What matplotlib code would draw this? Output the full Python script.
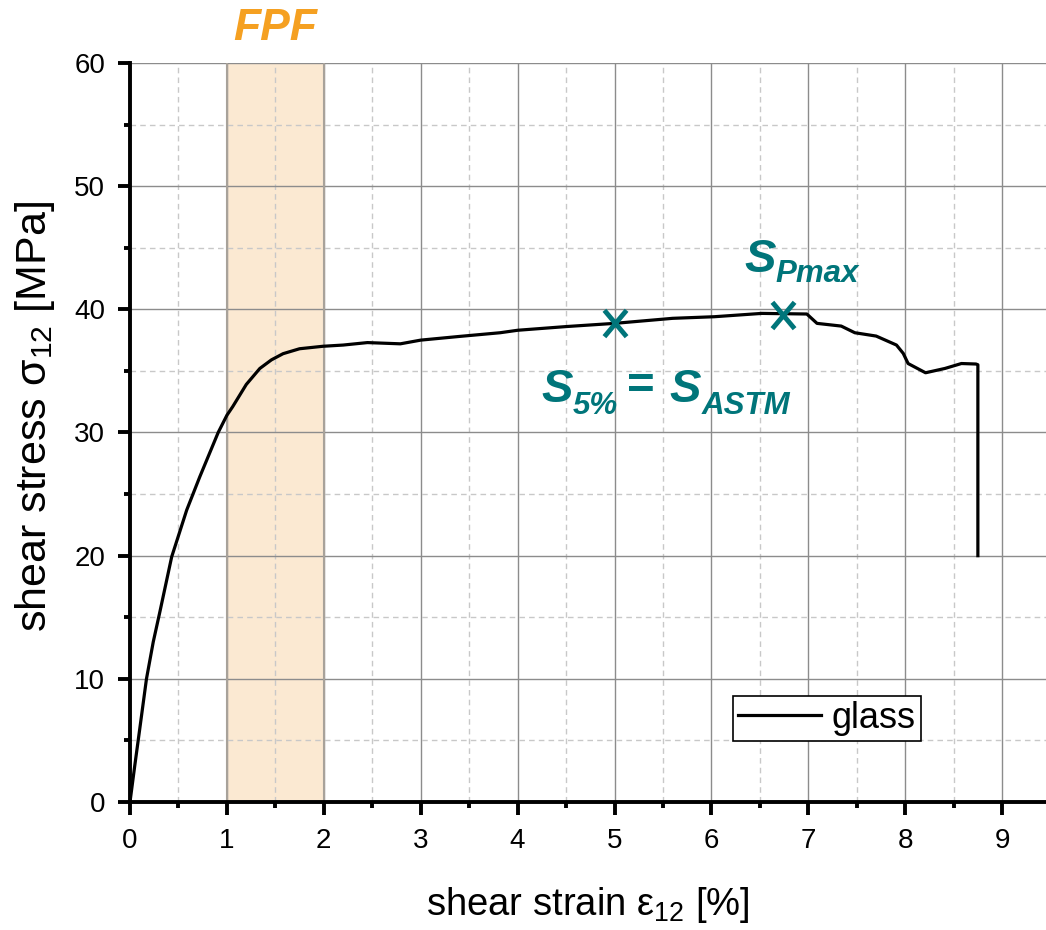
import matplotlib
matplotlib.use("Agg")
import matplotlib.pyplot as plt
from matplotlib.ticker import MultipleLocator
from matplotlib.path import Path

plt.rcParams['font.family'] = ['Liberation Sans', 'DejaVu Sans']
plt.rcParams['mathtext.fontset'] = 'custom'
plt.rcParams['mathtext.rm'] = 'Liberation Sans'
plt.rcParams['mathtext.it'] = 'Liberation Sans:italic'
plt.rcParams['mathtext.bf'] = 'Liberation Sans:bold'

# ---- data ----
strain = [0.0, 0.05, 0.10, 0.17, 0.24, 0.31, 0.43, 0.585, 0.72, 0.91, 1.0, 1.06, 1.2, 1.34,
          1.46, 1.58, 1.75, 1.99, 2.2, 2.45, 2.79, 3.0, 3.4, 3.82, 4.0, 4.5, 5.0, 5.6, 6.03,
          6.52, 6.985, 7.09, 7.34, 7.48, 7.70, 7.91, 7.98, 8.03, 8.21, 8.41, 8.58, 8.73,
          8.75, 8.75]
stress = [0.0, 3.0, 5.9, 10.0, 13.0, 15.5, 19.9, 23.7, 26.4, 30.0, 31.4, 32.1, 33.9, 35.2,
          35.9, 36.4, 36.8, 37.0, 37.1, 37.3, 37.2, 37.5, 37.8, 38.1, 38.3, 38.6, 38.86, 39.27, 39.4,
          39.67, 39.62, 38.86, 38.64, 38.1, 37.83, 37.1, 36.42, 35.6, 34.85, 35.2, 35.6, 35.56,
          35.5, 20.0]
marker_x = [5.0, 6.74]
marker_y = [38.86, 39.54]
fpf_range = [1.0, 2.0]
series_label = "glass"

teal = '#00757a'
orange = '#f5a021'

fig = plt.figure(figsize=(10.46, 9.30), dpi=100)
ax = fig.add_axes([130/1046, 128/930, 916/1046, 739/930])
ax.set_xlim(0, 916/96.9)
ax.set_ylim(0, 60)

ax.axvspan(fpf_range[0], fpf_range[1], color='#fbe9d2', zorder=0.5, lw=0)
for xv in fpf_range:
    ax.axvline(xv, color='#a8a29a', lw=1.5, zorder=0.6)

ax.plot(strain, stress, color='black', lw=2.3, label=series_label, zorder=3)
xmark = Path([(-0.42, -0.5), (0.42, 0.5), (-0.42, 0.5), (0.42, -0.5)],
             [Path.MOVETO, Path.LINETO, Path.MOVETO, Path.LINETO])
ax.plot(marker_x, marker_y, ls='none', marker=xmark, ms=19, mew=3.5, color=teal, zorder=4)

ax.xaxis.set_major_locator(MultipleLocator(1))
ax.xaxis.set_minor_locator(MultipleLocator(0.5))
ax.yaxis.set_major_locator(MultipleLocator(10))
ax.yaxis.set_minor_locator(MultipleLocator(5))
ax.grid(which='major', color='#8c8c8c', lw=1.0, ls='-')
ax.grid(which='minor', color='#c8c8c8', lw=1.0, ls=(0, (4, 3)))
ax.set_axisbelow(True)

for s in ['top', 'right']:
    ax.spines[s].set_visible(False)
for s in ['left', 'bottom']:
    ax.spines[s].set_linewidth(2.8)
ax.tick_params(which='major', direction='out', length=9, width=2.8, labelsize=20)
ax.tick_params(which='minor', direction='out', length=4.5, width=2.8)
ax.tick_params(axis='x', which='major', pad=10)
ax.tick_params(axis='y', which='major', pad=9)

ax.set_xlabel('shear strain ε$_{\\mathregular{12}}$ [%]', fontsize=27.5, labelpad=22)
ax.set_ylabel('shear stress σ$_{\\mathregular{12}}$ [MPa]', fontsize=31)
ax.yaxis.set_label_coords(-(130 - 57) / 916, 0.522)

ax.text(1.5, 62.8, 'FPF', color=orange, fontsize=32, fontweight='bold', fontstyle='italic',
        ha='center', va='center', clip_on=False)

bi = dict(color=teal, fontweight='bold', fontstyle='italic', va='baseline', ha='left')
ax.text(6.345, 43.06, 'S', fontsize=34, **bi)
ax.text(6.665, 42.25, 'Pmax', fontsize=22.5, **bi)
ax.text(4.249, 32.49, 'S', fontsize=34, **bi)
ax.text(4.569, 31.54, '5%', fontsize=22.5, **bi)
ax.text(5.269, 33.71, '=', fontsize=34, color=teal, fontweight='bold', ha='center', va='center')
ax.text(5.564, 32.49, 'S', fontsize=34, **bi)
ax.text(5.901, 31.54, 'ASTM', fontsize=22.5, **bi)

leg = ax.legend(loc='upper left', bbox_to_anchor=(733/1046, 1 - 696/930),
                bbox_transform=fig.transFigure, fontsize=26, frameon=True, fancybox=False,
                borderpad=0.14, handlelength=2.3, handletextpad=0.3, borderaxespad=0)
leg.get_frame().set_edgecolor('black')
leg.get_frame().set_linewidth(1.2)
leg.get_frame().set_alpha(1)

fig.savefig('out.png', dpi=100)
